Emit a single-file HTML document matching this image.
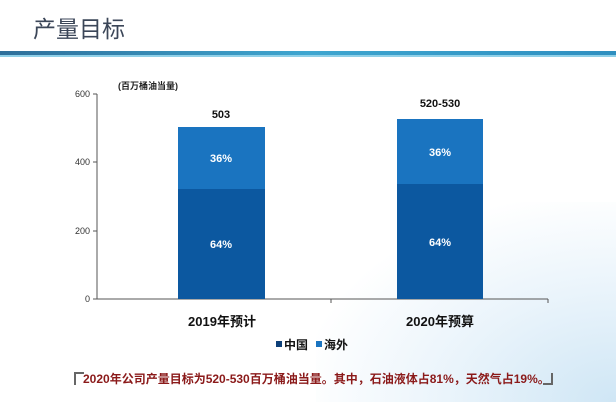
<!DOCTYPE html>
<html><head><meta charset="utf-8"><style>
body{margin:0;width:616px;height:402px;overflow:hidden;background:#fff;font-family:"Liberation Sans","Noto Sans CJK SC",sans-serif;position:relative}
.a{position:absolute}
</style></head><body>
<div class="a" style="right:0;bottom:0;width:300px;height:200px;background:radial-gradient(ellipse at 100% 100%,#cfe6f5 0%,#eaf4fb 40%,rgba(255,255,255,0) 75%)"></div>
<div class="a" style="left:33px;top:10px;font-size:23px;color:#3b4658">产量目标</div>
<div class="a" style="left:0;top:51px;width:616px;height:4px;background:linear-gradient(90deg,#2e6f9a,#3ea6d0,#2e8fc0)"></div>
<div class="a" style="left:0;top:55px;width:616px;height:2px;background:#8fd0e8"></div>
<svg class="a" style="left:0;top:0" width="616" height="402">
<g font-size="9" fill="#333" text-anchor="end">
<text x="90" y="97">600</text><text x="90" y="165">400</text><text x="90" y="234">200</text><text x="90" y="302">0</text></g>
<text x="118" y="89" font-size="9" font-weight="bold" fill="#222">(百万桶油当量)</text>
<path d="M97 94V299H548M93 94H97M93 162H97M93 231H97M93 299H97M331 299V303M548 299V303" stroke="#555" fill="none" stroke-width="1"/>
<rect x="178" y="127" width="87" height="62" fill="#1a74c0"/>
<rect x="178" y="189" width="87" height="110" fill="#0c58a0"/>
<rect x="397" y="119" width="86" height="65" fill="#1a74c0"/>
<rect x="397" y="184" width="86" height="115" fill="#0c58a0"/>
<g font-size="11" font-weight="bold" fill="#fff" text-anchor="middle">
<text x="221" y="162">36%</text><text x="221" y="248">64%</text>
<text x="440" y="156">36%</text><text x="440" y="246">64%</text></g>
<g font-size="11" font-weight="bold" fill="#111" text-anchor="middle">
<text x="221" y="118">503</text><text x="440" y="107">520-530</text></g>
<g font-size="13" font-weight="bold" fill="#111" text-anchor="middle">
<text x="222" y="326">2019年预计</text><text x="440" y="326">2020年预算</text></g>
<rect x="276" y="341" width="6" height="6" fill="#0c3f78"/>
<text x="284" y="349" font-size="12" font-weight="bold" fill="#111">中国</text>
<rect x="316" y="341" width="6" height="6" fill="#1a74c0"/>
<text x="324" y="349" font-size="12" font-weight="bold" fill="#111">海外</text>
<path d="M75 385V373H84" stroke="#666" stroke-width="2" fill="none"/>
<path d="M543 384H552V373" stroke="#666" stroke-width="2" fill="none"/>
<text x="83" y="383" font-size="12" font-weight="bold" fill="#8b1a1a">2020年公司产量目标为520-530百万桶油当量。其中，石油液体占81%，天然气占19%。</text>
</svg>
</body></html>
